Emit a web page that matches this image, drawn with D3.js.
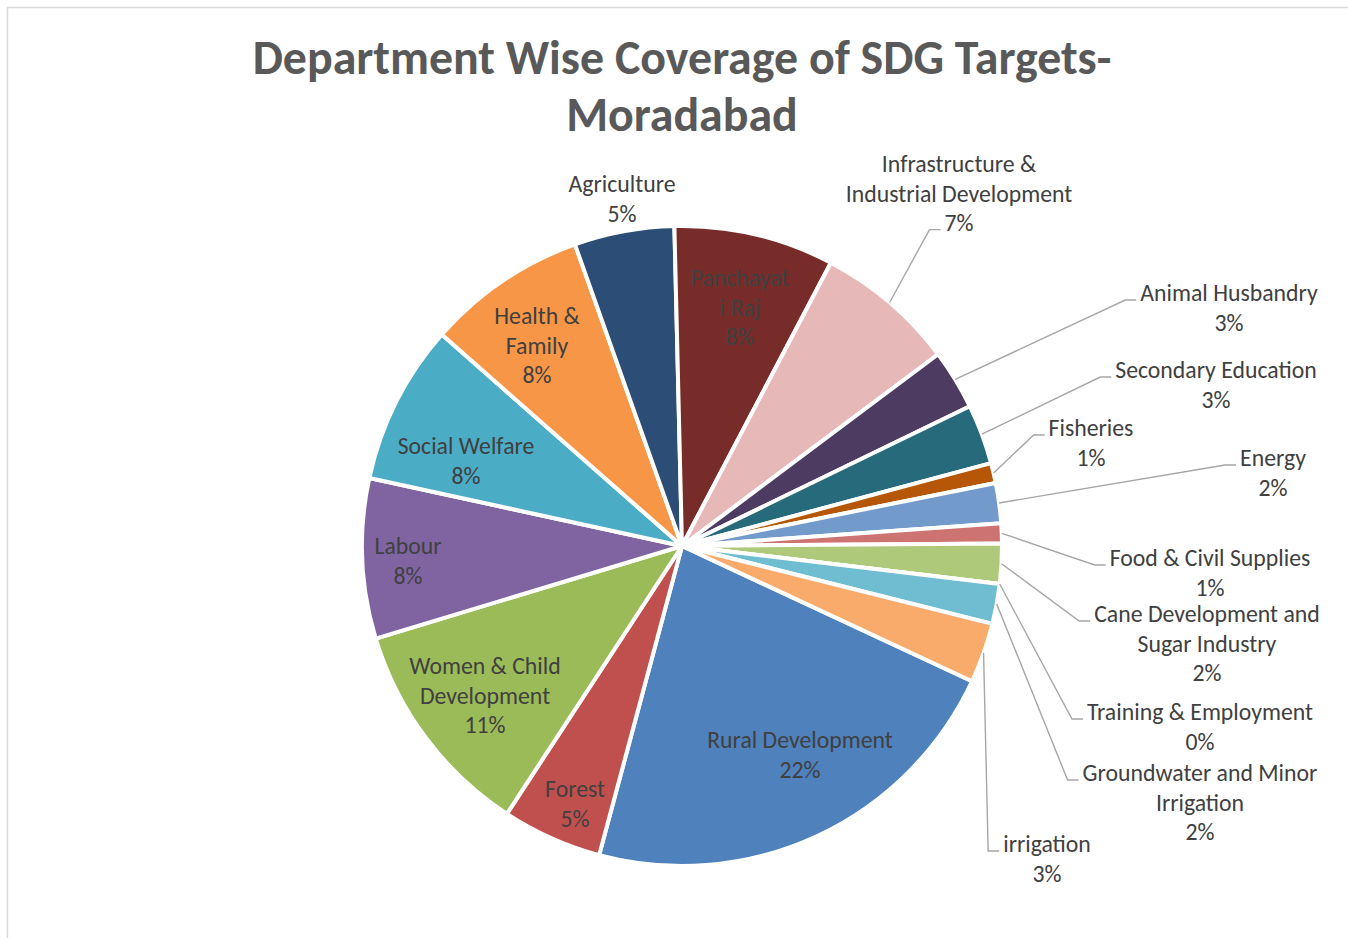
<html>
    <head>
        <title>Department Wise Coverage of SDG Targets - Moradabad</title>
        <script src="https://d3js.org/d3.v7.min.js"></script>
        <style>
            body { margin: 0; background: white; }
            text { font-family: Carlito, Calibri, Lato, "Open Sans", sans-serif; }
        </style>
    </head>
    <body>
        <svg id="piechart" width="1348" height="938"></svg>

        <script>
            // data, in the order the slices are drawn (clockwise from the first slice)
            const departments = ["Rural Development", "Forest", "Women & Child Development", "Labour",
                "Social Welfare", "Health & Family", "Agriculture", "Panchayati Raj",
                "Infrastructure & Industrial Development", "Animal Husbandry", "Secondary Education",
                "Fisheries", "Energy", "Food & Civil Supplies", "Cane Development and Sugar Industry",
                "Training & Employment", "Groundwater and Minor Irrigation", "irrigation"];
            const targets = [22, 5, 11, 8, 8, 8, 5, 8, 7, 3, 3, 1, 2, 1, 2, 0, 2, 3];
            // how each label wraps in the picture
            const labelLines = [["Rural Development"], ["Forest"], ["Women & Child", "Development"], ["Labour"],
                ["Social Welfare"], ["Health &", "Family"], ["Agriculture"], ["Panchayat", "i Raj"],
                ["Infrastructure &", "Industrial Development"], ["Animal Husbandry"], ["Secondary Education"],
                ["Fisheries"], ["Energy"], ["Food & Civil Supplies"], ["Cane Development and", "Sugar Industry"],
                ["Training & Employment"], ["Groundwater and Minor", "Irrigation"], ["irrigation"]];

            const sliceColors = ["#4F81BD", "#C0504D", "#9BBB59", "#8064A2", "#4BACC6", "#F79646",
                "#2C4D75", "#772C2A", "#E6B9B8", "#4D3B62", "#276A7C", "#B65708",
                "#729ACA", "#CD7371", "#AFC97A", "#9983B5", "#6FBDD1", "#F9AB6B"];

            // label placement: offset of the first line from the pie centre, and leader line use
            const labelOffsets = [[118, 194], [-107, 243], [-197, 120], [-274, 0], [-216, -100], [-145, -230],
                [-60, -362], [58, -268], [277, -382], [547, -253], [534, -176], [409, -118],
                [591, -88], [528, 12], [525, 68], [518, 166], [518, 227], [365, 298]];
            const hasLeader = [false, false, false, false, false, false, false, false,
                true, true, true, true, true, true, true, true, true, true];

            const svg = d3.select("#piechart");
            const cx = 682, cy = 546, radius = 320;
            const lineHeight = 29.3;

            // light chart border (runs off the right and bottom of the picture)
            svg.append("rect")
                .attr("x", 7.5).attr("y", 7.5)
                .attr("width", 1400).attr("height", 1000)
                .attr("fill", "none")
                .attr("stroke", "#D9D9D9")
                .attr("stroke-width", 1.5);

            // fit font sizes to the widths in the picture
            function fitSize(str, weight, targetWidth) {
                const t = svg.append("text").attr("font-size", 100).attr("font-weight", weight).text(str);
                const w = t.node().getComputedTextLength();
                t.remove();
                return 100 * targetWidth / w;
            }
            const titleSize = fitSize("Department Wise Coverage of SDG Targets-", "bold", 859);
            const labelSize = fitSize("Agriculture", "normal", 107);

            // TITLE
            const title = svg.append("text")
                .attr("text-anchor", "middle")
                .attr("font-size", titleSize)
                .attr("font-weight", "bold")
                .attr("fill", "#595959");
            title.append("tspan").attr("x", cx).attr("y", 74).text("Department Wise Coverage of SDG Targets-");
            title.append("tspan").attr("x", cx).attr("y", 131).text("Moradabad");

            // PIE
            const pieData = departments.map((d, i) => ({name: d, value: targets[i], index: i}));
            const total = d3.sum(targets);

            const pie = d3.pie()
                .sort(null)
                .value(d => d.value)
                .startAngle(115 * Math.PI / 180)
                .endAngle(115 * Math.PI / 180 + 2 * Math.PI);

            const arc = d3.arc().innerRadius(0).outerRadius(radius);
            const arcs = pie(pieData);

            const chartArea = svg.append("g")
                .attr("transform", "translate(" + cx + "," + cy + ")");

            chartArea.selectAll("path.slice")
                .data(arcs)
                .join("path")
                .attr("class", "slice")
                .attr("d", arc)
                .attr("fill", d => sliceColors[d.data.index])
                .attr("stroke", "white")
                .attr("stroke-width", 4)
                .attr("stroke-linejoin", "round");

            // LABELS
            const labels = chartArea.append("g");
            const leaders = chartArea.append("g");

            arcs.forEach(d => {
                const i = d.data.index;
                const pct = Math.round(d.data.value / total * 100) + "%";
                const lines = labelLines[i].concat([pct]);
                const [ox, oy] = labelOffsets[i];

                const txt = labels.append("text")
                    .attr("text-anchor", "middle")
                    .attr("font-size", labelSize)
                    .attr("fill", "#404040");

                const spans = lines.map((l, k) => txt.append("tspan")
                    .attr("x", ox)
                    .attr("y", oy + k * lineHeight)
                    .attr("dy", "0.35em")
                    .text(l));

                if (hasLeader[i]) {
                    // leader runs to the last line for the top label, else to the first
                    const k = oy < -300 ? lines.length - 1 : 0;
                    const w = spans[k].node().getComputedTextLength();
                    const endX = ox - w / 2 - 4;
                    const endY = oy + k * lineHeight + 7;
                    const mid = (d.startAngle + d.endAngle) / 2;
                    const sx = Math.sin(mid) * radius;
                    const sy = -Math.cos(mid) * radius;

                    leaders.append("polyline")
                        .attr("points", [[sx, sy], [endX - 11, endY], [endX, endY]].map(p => p.join(",")).join(" "))
                        .attr("fill", "none")
                        .attr("stroke", "#A6A6A6")
                        .attr("stroke-width", 1.4);
                }
            });
        </script>
    </body>
</html>
